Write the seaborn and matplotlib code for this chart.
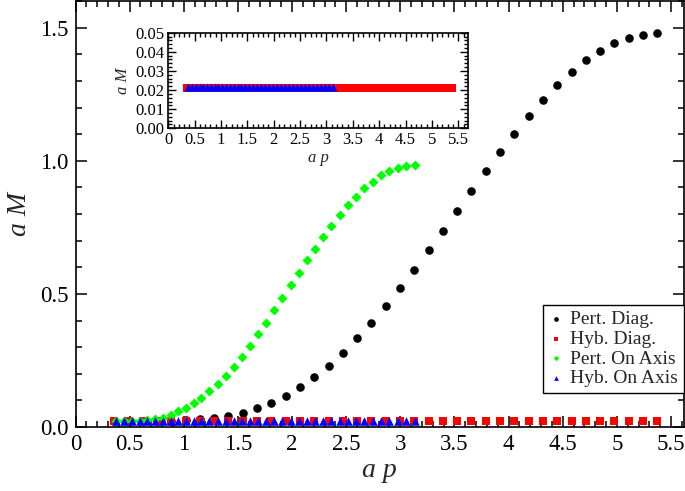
import matplotlib
matplotlib.use("Agg")
import matplotlib.pyplot as plt
import seaborn as sns
import pandas as pd
from matplotlib.ticker import MultipleLocator, FormatStrFormatter

# ---------------- data ----------------
diag_ap = [0.357, 0.489, 0.621, 0.753, 0.885, 1.017, 1.149, 1.281, 1.413, 1.545,
           1.677, 1.809, 1.941, 2.073, 2.205, 2.337, 2.469, 2.601, 2.733, 2.865,
           2.997, 3.129, 3.261, 3.393, 3.525, 3.657, 3.789, 3.921, 4.053, 4.185,
           4.317, 4.449, 4.581, 4.713, 4.845, 4.977, 5.109, 5.241, 5.373]
pert_diag = [0.021, 0.021, 0.022, 0.023, 0.024, 0.026, 0.029, 0.034, 0.041, 0.053,
             0.070, 0.091, 0.118, 0.149, 0.188, 0.230, 0.279, 0.333, 0.392, 0.455,
             0.521, 0.591, 0.663, 0.737, 0.812, 0.887, 0.960, 1.033, 1.102, 1.167,
             1.227, 1.283, 1.333, 1.377, 1.412, 1.441, 1.462, 1.474, 1.479]
hyb_diag = [0.021, 0.021, 0.021, 0.021, 0.021, 0.021, 0.021, 0.021, 0.021, 0.021,
            0.021, 0.021, 0.021, 0.021, 0.021, 0.021, 0.021, 0.021, 0.021, 0.021,
            0.021, 0.021, 0.021, 0.021, 0.021, 0.021, 0.021, 0.021, 0.021, 0.021,
            0.021, 0.021, 0.021, 0.021, 0.021, 0.021, 0.021, 0.021, 0.021]

axis_ap = [0.376, 0.448, 0.520, 0.592, 0.664, 0.736, 0.810, 0.880, 0.951, 1.025,
           1.095, 1.163, 1.237, 1.313, 1.386, 1.463, 1.536, 1.610, 1.687, 1.761,
           1.835, 1.911, 1.987, 2.064, 2.138, 2.212, 2.288, 2.364, 2.442, 2.518,
           2.592, 2.668, 2.746, 2.822, 2.898, 2.975, 3.052, 3.131]
pert_axis = [0.021, 0.021, 0.022, 0.024, 0.026, 0.029, 0.035, 0.045, 0.059, 0.073,
             0.089, 0.108, 0.136, 0.161, 0.192, 0.226, 0.264, 0.304, 0.348, 0.392,
             0.439, 0.486, 0.532, 0.580, 0.627, 0.670, 0.715, 0.755, 0.795, 0.833,
             0.865, 0.897, 0.922, 0.945, 0.961, 0.974, 0.982, 0.985]
hyb_axis = [0.0216, 0.0216, 0.0216, 0.0216, 0.0216, 0.0216, 0.0216, 0.0216, 0.0216, 0.0216,
            0.0216, 0.0216, 0.0216, 0.0216, 0.0216, 0.0216, 0.0216, 0.0216, 0.0216, 0.0216,
            0.0216, 0.0216, 0.0216, 0.0216, 0.0216, 0.0216, 0.0216, 0.0216, 0.0216, 0.0216,
            0.0216, 0.0216, 0.0216, 0.0216, 0.0216, 0.0216, 0.0216, 0.0216]

labels = ["Pert. Diag.", "Hyb. Diag.", "Pert. On Axis", "Hyb. On Axis"]
colors = ["#000000", "#ff0000", "#00ff00", "#0000ff"]
markers = ["o", "s", "D", "^"]

# ---------------- styling ----------------
sns.set_theme(style="ticks")
plt.rcParams["font.family"] = ["Liberation Serif", "DejaVu Serif"]
plt.rcParams["axes.linewidth"] = 1.2

W, H = 685, 491
fig = plt.figure(figsize=(W / 100, H / 100), dpi=100)

ax = fig.add_axes([75.5 / W, (H - 427) / H, 608.5 / W, 426 / H])

series = [(diag_ap, pert_diag), (diag_ap, hyb_diag), (axis_ap, pert_axis), (axis_ap, hyb_axis)]
sizes = [38, 32, 26, 38]


def draw(a, idx, scale):
    for i in idx:
        xs, ys = series[i]
        df = pd.DataFrame({"ap": xs, "aM": ys})
        sns.scatterplot(data=df, x="ap", y="aM", ax=a, marker=markers[i], color=colors[i],
                        s=sizes[i] * scale, linewidth=0, label=labels[i], legend=False)


draw(ax, [0, 1, 2, 3], 1.0)
ax.set_xlim(0, 5.62)
ax.set_ylim(0, 1.6)
ax.xaxis.set_major_locator(MultipleLocator(0.5))
ax.xaxis.set_minor_locator(MultipleLocator(0.1))
ax.yaxis.set_major_locator(MultipleLocator(0.5))
ax.yaxis.set_minor_locator(MultipleLocator(0.1))
ax.xaxis.set_major_formatter(FormatStrFormatter("%g"))
ax.yaxis.set_major_formatter(FormatStrFormatter("%.1f"))
ax.tick_params(which="both", direction="in", top=True, right=True, width=1.1,
               labelsize=16.5, colors="black")
ax.tick_params(which="major", length=8, pad=5)
ax.tick_params(which="minor", length=4)
ax.set_xlabel("a p", fontsize=20, fontstyle="italic", labelpad=2)
ax.set_ylabel("a M", fontsize=20, fontstyle="italic", labelpad=6)
for sp in ax.spines.values():
    sp.set_color("black")

handles, labs = ax.get_legend_handles_labels()
leg = ax.legend(handles, labs, loc="lower right", bbox_to_anchor=(1.0, 0.08),
                frameon=True, fancybox=False, edgecolor="black", framealpha=1,
                fontsize=14, markerscale=0.55, handlelength=0.7, handletextpad=0.4,
                labelspacing=0.1, borderpad=0.3, borderaxespad=0)
leg.get_frame().set_linewidth(1.0)

# ---------------- inset ----------------
ins = fig.add_axes([168.3 / W, (H - 128.3) / H, 300 / W, 95.6 / H])
draw(ins, [1, 3], 0.9)
ins.set_xlim(0, 5.69)
ins.set_ylim(0, 0.05)
ins.xaxis.set_major_locator(MultipleLocator(0.5))
ins.xaxis.set_minor_locator(MultipleLocator(0.1))
ins.yaxis.set_major_locator(MultipleLocator(0.01))
ins.yaxis.set_minor_locator(MultipleLocator(0.002))
ins.xaxis.set_major_formatter(FormatStrFormatter("%g"))
ins.yaxis.set_major_formatter(FormatStrFormatter("%.2f"))
ins.tick_params(which="both", direction="in", top=True, right=True, width=1.0,
                labelsize=12, colors="black")
ins.tick_params(which="major", length=6, pad=3)
ins.tick_params(which="minor", length=3)
ins.set_xlabel("a p", fontsize=12, fontstyle="italic", labelpad=1)
ins.set_ylabel("a M", fontsize=12, fontstyle="italic", labelpad=3)
for sp in ins.spines.values():
    sp.set_color("black")

fig.savefig("out.png", dpi=100)
